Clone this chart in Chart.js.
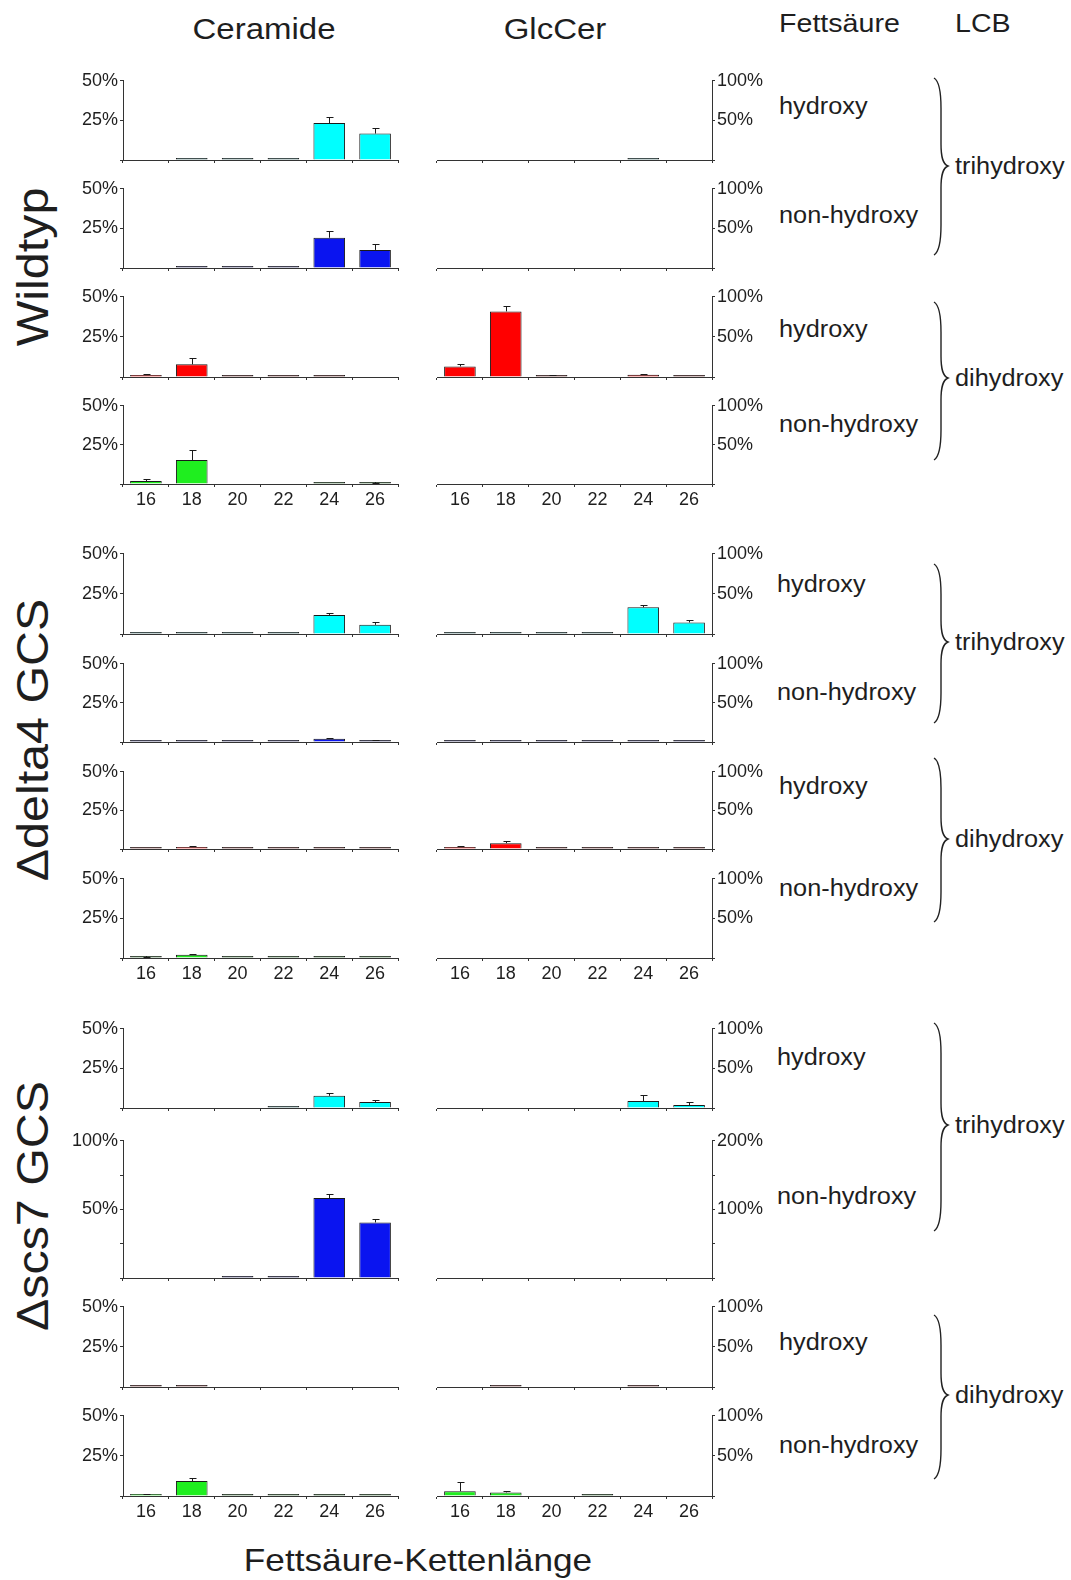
<!DOCTYPE html>
<html>
<head>
<meta charset="utf-8">
<script src="https://cdn.jsdelivr.net/npm/chart.js@4.4.1/dist/chart.umd.min.js"></script>
<style>
  html, body { margin: 0; padding: 0; background: #fff; }
  #fig { position: relative; width: 1071px; height: 1580px; overflow: hidden;
         font-family: "Liberation Sans", Arial, sans-serif; color: #1e1e1e; background: #fff; }
  #fig canvas { position: absolute; }
  .lbl { position: absolute; white-space: nowrap; line-height: 1; }
  #braces { position: absolute; left: 0; top: 0; }
</style>
</head>
<body>
<div id="fig"></div>
<script>
// Fatty acid chain lengths (x categories)
const chainLengths = ['16', '18', '20', '22', '24', '26'];

// ---- Wildtyp ----
const wtCerTriOH      = [null, 0.3, 0.2, 0.3, 23.3, 16.7];
const wtCerTriOHErr   = [0, 0, 0, 0, 3.8, 3.7];
const wtCerTriNon     = [null, 0.4, 0.2, 0.4, 19.1, 11.4];
const wtCerTriNonErr  = [0, 0, 0, 0, 4.2, 3.6];
const wtCerDiOH       = [1.0, 7.9, 0.3, 0.3, 0.3, null];
const wtCerDiOHErr    = [1.1, 4.1, 0, 0, 0, 0];
const wtCerDiNon      = [1.9, 15.3, null, null, 0.3, 0.4];
const wtCerDiNonErr   = [1.2, 6.7, 0, 0, 0, 0.3];

const wtGlcTriOH      = [null, null, null, null, 0.6, null];
const wtGlcTriOHErr   = [0, 0, 0, 0, 0, 0];
const wtGlcTriNon     = [null, null, null, null, null, null];
const wtGlcTriNonErr  = [0, 0, 0, 0, 0, 0];
const wtGlcDiOH       = [13.2, 81.8, 1.8, null, 2.8, 0.5];
const wtGlcDiOHErr    = [3.3, 7.0, 0.8, 0, 0.8, 0];
const wtGlcDiNon      = [null, null, null, null, null, null];
const wtGlcDiNonErr   = [0, 0, 0, 0, 0, 0];

// ---- Δdelta4 GCS ----
const d4CerTriOH      = [0.2, 0.3, 0.2, 0.3, 11.9, 5.7];
const d4CerTriOHErr   = [0, 0, 0, 0, 1.1, 1.5];
const d4CerTriNon     = [0.2, 0.2, 0.2, 0.2, 2.1, 0.9];
const d4CerTriNonErr  = [0, 0, 0, 0, 0.4, 0.4];
const d4CerDiOH       = [0.2, 1.3, 0.2, 0.2, 0.2, 0.2];
const d4CerDiOHErr    = [0, 0.5, 0, 0, 0, 0];
const d4CerDiNon      = [0.5, 2.0, 0.2, 0.2, 0.2, 0.2];
const d4CerDiNonErr   = [0.2, 0.6, 0, 0, 0, 0];

const d4GlcTriOH      = [0.3, 0.3, 0.3, 0.3, 33.3, 14.4];
const d4GlcTriOHErr   = [0, 0, 0, 0, 2.9, 2.5];
const d4GlcTriNon     = [0.3, 0.3, 0.3, 0.3, 0.3, 0.3];
const d4GlcTriNonErr  = [0, 0, 0, 0, 0, 0];
const d4GlcDiOH       = [2.5, 7.6, 0.3, 0.3, 0.5, 0.3];
const d4GlcDiOHErr    = [1.7, 3.2, 0, 0, 0, 0];
const d4GlcDiNon      = [null, null, null, null, null, null];
const d4GlcDiNonErr   = [0, 0, 0, 0, 0, 0];

// ---- Δscs7 GCS ----
const s7CerTriOH      = [null, null, null, 0.3, 7.7, 3.8];
const s7CerTriOHErr   = [0, 0, 0, 0, 1.7, 1.0];
const s7CerTriNon     = [null, null, 0.3, 1.0, 58.3, 40.5];
const s7CerTriNonErr  = [0, 0, 0, 0, 3.2, 2.6];
const s7CerDiOH       = [0.3, 0.5, null, null, null, null];
const s7CerDiOHErr    = [0, 0, 0, 0, 0, 0];
const s7CerDiNon      = [1.0, 9.3, 0.2, 0.2, 0.2, 0.2];
const s7CerDiNonErr   = [0.3, 1.9, 0, 0, 0, 0];

const s7GlcTriOH      = [null, null, null, null, 8.8, 3.8];
const s7GlcTriOHErr   = [0, 0, 0, 0, 7.0, 3.2];
const s7GlcTriNon     = [null, null, null, null, null, null];
const s7GlcTriNonErr  = [0, 0, 0, 0, 0, 0];
const s7GlcDiOH       = [null, 0.5, null, null, 0.5, null];
const s7GlcDiOHErr    = [0, 0, 0, 0, 0, 0];
const s7GlcDiNon      = [6.0, 4.5, null, 0.3, null, null];
const s7GlcDiNonErr   = [11.0, 2.0, 0, 0, 0, 0];

// Axis maxima (percent) for the Ceramide and GlcCer column of each row
const cerAxisMax = [50, 50, 50, 50, 50, 50, 50, 50, 50, 100, 50, 50];
const glcAxisMax = [100, 100, 100, 100, 100, 100, 100, 100, 100, 200, 100, 100];

// Bar fill per fatty-acid / LCB class; very short bars read as a dark sliver
const COLORS = { triOH: '#00ffff', triNon: '#0a14f0', diOH: '#ff0000', diNon: '#1fee1f' };
const SLIVER = { triOH: '#1b4f4f', triNon: '#10104f', diOH: '#5a0c0c', diNon: '#124f12' };

// Row definitions: data, class, whether chain-length labels are shown
const rows = [
  { cer: wtCerTriOH, cerErr: wtCerTriOHErr, glc: wtGlcTriOH, glcErr: wtGlcTriOHErr, cls: 'triOH', showX: false },
  { cer: wtCerTriNon, cerErr: wtCerTriNonErr, glc: wtGlcTriNon, glcErr: wtGlcTriNonErr, cls: 'triNon', showX: false },
  { cer: wtCerDiOH, cerErr: wtCerDiOHErr, glc: wtGlcDiOH, glcErr: wtGlcDiOHErr, cls: 'diOH', showX: false },
  { cer: wtCerDiNon, cerErr: wtCerDiNonErr, glc: wtGlcDiNon, glcErr: wtGlcDiNonErr, cls: 'diNon', showX: true },
  { cer: d4CerTriOH, cerErr: d4CerTriOHErr, glc: d4GlcTriOH, glcErr: d4GlcTriOHErr, cls: 'triOH', showX: false },
  { cer: d4CerTriNon, cerErr: d4CerTriNonErr, glc: d4GlcTriNon, glcErr: d4GlcTriNonErr, cls: 'triNon', showX: false },
  { cer: d4CerDiOH, cerErr: d4CerDiOHErr, glc: d4GlcDiOH, glcErr: d4GlcDiOHErr, cls: 'diOH', showX: false },
  { cer: d4CerDiNon, cerErr: d4CerDiNonErr, glc: d4GlcDiNon, glcErr: d4GlcDiNonErr, cls: 'diNon', showX: true },
  { cer: s7CerTriOH, cerErr: s7CerTriOHErr, glc: s7GlcTriOH, glcErr: s7GlcTriOHErr, cls: 'triOH', showX: false },
  { cer: s7CerTriNon, cerErr: s7CerTriNonErr, glc: s7GlcTriNon, glcErr: s7GlcTriNonErr, cls: 'triNon', showX: false },
  { cer: s7CerDiOH, cerErr: s7CerDiOHErr, glc: s7GlcDiOH, glcErr: s7GlcDiOHErr, cls: 'diOH', showX: false },
  { cer: s7CerDiNon, cerErr: s7CerDiNonErr, glc: s7GlcDiNon, glcErr: s7GlcDiNonErr, cls: 'diNon', showX: true }
];

// Page layout: plot-area top (axis maximum) and baseline of each row, in px
const rowTop  = [80, 188, 296, 405, 553, 663, 771, 878, 1028, 1140, 1306, 1415];
const rowBase = [160, 268, 377, 484, 634, 742, 849, 958, 1108, 1278, 1387, 1496];

const FONT = '"Liberation Sans", Arial, sans-serif';
const INK = '#1e1e1e';
const fig = document.getElementById('fig');

// Upper error whiskers with a small cap
const errorBars = {
  id: 'errorBars',
  afterDatasetsDraw(chart) {
    const ds = chart.data.datasets[0];
    const meta = chart.getDatasetMeta(0);
    const ys = chart.scales.y;
    const ctx = chart.ctx;
    ctx.save();
    ctx.strokeStyle = '#1a1a1a';
    ctx.lineWidth = 1;
    meta.data.forEach((bar, i) => {
      const v = ds.data[i];
      const e = ds.errors[i];
      if (v == null || !e) return;
      const x = Math.round(bar.x) + 0.5;
      const yTop = Math.round(ys.getPixelForValue(v + e)) + 0.5;
      ctx.beginPath();
      ctx.moveTo(x, bar.y);
      ctx.lineTo(x, yTop);
      ctx.moveTo(x - 3, yTop);
      ctx.lineTo(x + 4, yTop);
      ctx.stroke();
    });
    ctx.restore();
  }
};

function makePanel(side, r) {
  const row = rows[r];
  const isCer = side === 'cer';
  const values = isCer ? row.cer : row.glc;
  const errors = isCer ? row.cerErr : row.glcErr;
  const max = isCer ? cerAxisMax[r] : glcAxisMax[r];
  const top = rowTop[r], base = rowBase[r];
  const padTop = 12;
  const xH = row.showX ? 26 : 14;
  const yW = isCer ? 65 : 62;
  const areaL = isCer ? 123 : 437;
  const areaW = 275;
  const padL = isCer ? 0 : 5;
  const padR = isCer ? 12 : 0;
  const left = isCer ? areaL - yW - padL : areaL - padL;
  const width = padL + yW + areaW + padR;
  const height = padTop + (base - top) + xH;

  const cv = document.createElement('canvas');
  cv.width = width;
  cv.height = height;
  cv.style.left = left + 'px';
  cv.style.top = (top - padTop) + 'px';
  cv.style.width = width + 'px';
  cv.style.height = height + 'px';
  fig.appendChild(cv);

  new Chart(cv, {
    type: 'bar',
    data: {
      labels: chainLengths,
      datasets: [{
        data: values,
        errors: errors,
        backgroundColor: (c) => (c.raw != null && c.raw < max * 0.02) ? SLIVER[row.cls] : COLORS[row.cls],
        borderColor: '#1a1a1a',
        borderWidth: 1,
        borderSkipped: 'start',
        barPercentage: 0.69,
        categoryPercentage: 1,
        minBarLength: 2
      }]
    },
    options: {
      responsive: false,
      animation: false,
      devicePixelRatio: 1,
      layout: { padding: { top: padTop, left: padL, right: padR, bottom: 0 } },
      plugins: { legend: { display: false }, tooltip: { enabled: false } },
      scales: {
        x: {
          grid: { display: true, drawOnChartArea: false, drawTicks: true, tickLength: 3, color: '#333', offset: true },
          border: { display: true, color: '#333', width: 1 },
          ticks: { display: row.showX, font: { family: FONT, size: 18 }, color: INK, padding: 2, maxRotation: 0 },
          afterFit(s) { s.height = xH; }
        },
        y: {
          position: isCer ? 'left' : 'right',
          min: 0,
          max: max,
          grid: { display: true, drawOnChartArea: false, drawTicks: true, tickLength: 3, color: '#333' },
          border: { display: true, color: '#333', width: 1 },
          ticks: {
            stepSize: max / 4,
            font: { family: FONT, size: 18 },
            color: INK,
            padding: 2,
            callback: (v) => (v === max || v === max / 2) ? v + '%' : ''
          },
          afterFit(s) { s.width = yW; }
        }
      }
    },
    plugins: [errorBars]
  });
}

for (let r = 0; r < rows.length; r++) {
  makePanel('cer', r);
  makePanel('glc', r);
}

// Text labels
function addText(txt, x, y, size, anchor, rotate) {
  const d = document.createElement('div');
  d.className = 'lbl';
  d.textContent = txt;
  d.style.fontSize = size + 'px';
  d.style.left = x + 'px';
  d.style.top = y + 'px';
  if (rotate) {
    d.style.transformOrigin = '50% 50%';
    d.style.transform = 'translate(-50%,-50%) rotate(-90deg) scaleX(1.1)';
  } else if (anchor === 'center') {
    d.style.transformOrigin = '50% 50%';
    d.style.transform = 'translate(-50%,-50%) scaleX(1.1)';
  } else {
    d.style.transformOrigin = '0 50%';
    d.style.transform = 'translate(0,-50%) scaleX(1.1)';
  }
  fig.appendChild(d);
}

addText('Ceramide', 264, 29, 30, 'center');
addText('GlcCer', 555, 29, 30, 'center');
addText('Fettsäure', 779, 23, 26, 'left');
addText('LCB', 955, 23, 26, 'left');

const faLabels = [
  ['hydroxy', 779, 106], ['non-hydroxy', 779, 215], ['hydroxy', 779, 329], ['non-hydroxy', 779, 424],
  ['hydroxy', 777, 584], ['non-hydroxy', 777, 692], ['hydroxy', 779, 786], ['non-hydroxy', 779, 888],
  ['hydroxy', 777, 1057], ['non-hydroxy', 777, 1196], ['hydroxy', 779, 1342], ['non-hydroxy', 779, 1445]
];
faLabels.forEach(([t, x, y]) => addText(t, x, y, 23, 'left'));

addText('Wildtyp', 33, 267, 44, 'center', true);
addText('\u0394delta4 GCS', 33, 740, 44, 'center', true);
addText('\u0394scs7 GCS', 33, 1206, 44, 'center', true);

addText('Fettsäure-Kettenlänge', 418, 1560, 32, 'center');

// LCB braces
const braces = [
  [934, 78, 255, 166, 'trihydroxy'], [934, 302, 460, 378, 'dihydroxy'],
  [934, 564, 723, 642, 'trihydroxy'], [934, 758, 922, 839, 'dihydroxy'],
  [934, 1023, 1231, 1125, 'trihydroxy'], [934, 1315, 1479, 1395, 'dihydroxy']
];
const NS = 'http://www.w3.org/2000/svg';
const svg = document.createElementNS(NS, 'svg');
svg.setAttribute('id', 'braces');
svg.setAttribute('width', '1071');
svg.setAttribute('height', '1580');
braces.forEach(([x0, y0, y1, ym, txt]) => {
  const xs = x0 + 7, xt = x0 + 14;
  const d = `M${x0},${y0} C${x0 + 5},${y0 + 3} ${xs},${y0 + 12} ${xs},${y0 + 30} ` +
            `L${xs},${ym - 22} C${xs},${ym - 8} ${xs + 2},${ym - 2} ${xt},${ym} ` +
            `C${xs + 2},${ym + 2} ${xs},${ym + 8} ${xs},${ym + 22} ` +
            `L${xs},${y1 - 30} C${xs},${y1 - 12} ${x0 + 5},${y1 - 3} ${x0},${y1}`;
  const p = document.createElementNS(NS, 'path');
  p.setAttribute('d', d);
  p.setAttribute('fill', 'none');
  p.setAttribute('stroke', '#222');
  p.setAttribute('stroke-width', '1.4');
  svg.appendChild(p);
  addText(txt, 955, ym, 23, 'left');
});
fig.appendChild(svg);
</script>
</body>
</html>
